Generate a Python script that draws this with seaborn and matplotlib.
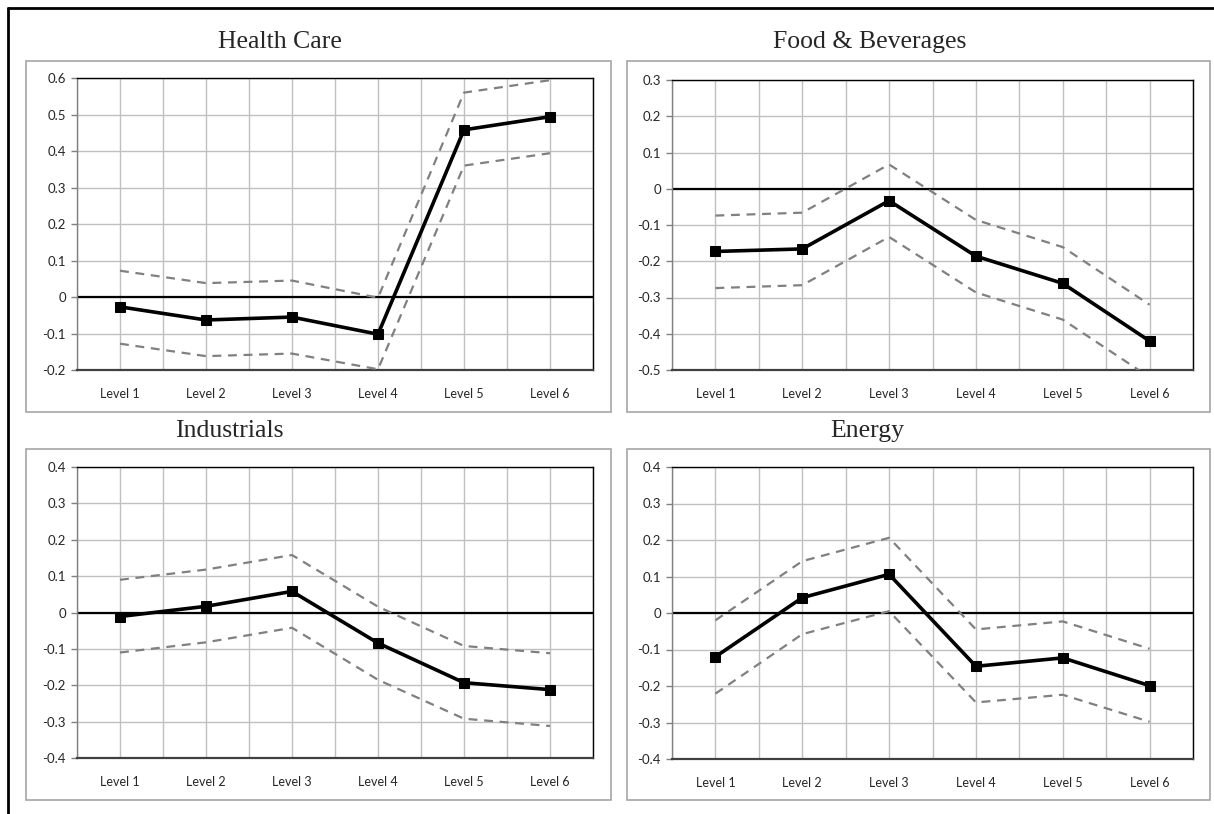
import numpy as np
import pandas as pd
import matplotlib.pyplot as plt
import seaborn as sns
from matplotlib.lines import Line2D
from matplotlib.patches import Rectangle

levels = ["Level 1", "Level 2", "Level 3", "Level 4", "Level 5", "Level 6"]

titles = ["Health Care", "Food & Beverages", "Industrials", "Energy"]

hc_mean = [-0.027, -0.063, -0.055, -0.102, 0.458, 0.494]
hc_upper = [0.072, 0.038, 0.045, -0.002, 0.560, 0.594]
hc_lower = [-0.128, -0.162, -0.155, -0.198, 0.360, 0.394]

fb_mean = [-0.173, -0.166, -0.033, -0.186, -0.261, -0.420]
fb_upper = [-0.074, -0.066, 0.067, -0.086, -0.161, -0.320]
fb_lower = [-0.274, -0.266, -0.133, -0.286, -0.361, -0.520]

ind_mean = [-0.011, 0.017, 0.058, -0.084, -0.193, -0.212]
ind_upper = [0.090, 0.118, 0.158, 0.016, -0.092, -0.112]
ind_lower = [-0.110, -0.082, -0.042, -0.185, -0.292, -0.312]

en_mean = [-0.120, 0.042, 0.106, -0.146, -0.123, -0.199]
en_upper = [-0.020, 0.142, 0.206, -0.045, -0.023, -0.098]
en_lower = [-0.221, -0.058, 0.005, -0.245, -0.224, -0.298]

ylims = [(-0.2, 0.6), (-0.5, 0.3), (-0.4, 0.4), (-0.4, 0.4)]

W, H = 1214, 814

sns.set_style("white")
plt.rcParams["font.family"] = ["Lato", "DejaVu Sans"]

fig = plt.figure(figsize=(W / 100, H / 100), dpi=100)

def px(x0, y0, x1, y1):
    # pixel box -> figure fraction [l, b, w, h]
    return [x0 / W, 1 - y1 / H, (x1 - x0) / W, (y1 - y0) / H]

# chart-area boxes, axes areas, title centres (pixels)
boxes = [(26, 61, 611, 412), (627, 61, 1210, 412), (26, 449, 611, 800), (627, 449, 1210, 800)]
areas = [(77, 78, 593, 370), (672, 80, 1193, 370), (77, 467, 593, 758), (672, 467, 1193, 759)]
tpos = [(280, 42), (870, 42), (229, 431), (867, 431)]

series = [(hc_mean, hc_upper, hc_lower), (fb_mean, fb_upper, fb_lower),
          (ind_mean, ind_upper, ind_lower), (en_mean, en_upper, en_lower)]

# outer frame (top + left)
fig.add_artist(Line2D([8 / W, 1], [1 - 8 / H, 1 - 8 / H], color="black", lw=2, transform=fig.transFigure))
fig.add_artist(Line2D([8 / W, 8 / W], [1 - 8 / H, 0], color="black", lw=2, transform=fig.transFigure))

for i in range(4):
    l, b, w, h = px(*boxes[i])
    fig.add_artist(Rectangle((l, b), w, h, transform=fig.transFigure, fill=False,
                             edgecolor="#a6a6a6", lw=1.2))
    fig.text(tpos[i][0] / W, 1 - tpos[i][1] / H, titles[i], ha="center", va="center",
             fontsize=18.5, family=["Liberation Serif", "DejaVu Serif"])

    ax = fig.add_axes(px(*areas[i]))
    mean, upper, lower = series[i]
    df = pd.DataFrame({"pos": np.arange(len(levels)), "mean": mean, "upper": upper, "lower": lower})

    ax.axhline(0, color="black", lw=1.6, zorder=2)
    sns.lineplot(data=df, x="pos", y="upper", ax=ax, color="#808080", lw=1.6,
                 linestyle=(0, (4, 3)), zorder=3)
    sns.lineplot(data=df, x="pos", y="lower", ax=ax, color="#808080", lw=1.6,
                 linestyle=(0, (4, 3)), zorder=3)
    sns.lineplot(data=df, x="pos", y="mean", ax=ax, color="black", lw=2.6,
                 marker="s", markersize=7, markeredgecolor="black", zorder=4)

    ax.set_xlim(-0.5, len(levels) - 0.5)
    ax.set_ylim(*ylims[i])
    ax.set_xticks(np.arange(len(levels)))
    ax.set_xticks(np.arange(-0.5, len(levels), 1.0), minor=True)
    ax.set_xticklabels(levels)
    ax.set_yticks(np.round(np.arange(ylims[i][0], ylims[i][1] + 0.01, 0.1), 1))
    ax.yaxis.set_major_formatter(plt.FuncFormatter(lambda v, p: "0" if abs(v) < 1e-9 else f"{v:.1f}"))
    ax.grid(True, which="both", color="#c0c0c0", lw=1.0)
    ax.set_axisbelow(True)
    ax.set_xlabel("")
    ax.set_ylabel("")
    ax.tick_params(axis="x", which="both", length=0, pad=13, labelsize=9)
    ax.tick_params(axis="y", length=4, color="#808080", width=1, pad=4, labelsize=9.5, left=True)
    ax.spines["top"].set_color("black")
    ax.spines["right"].set_color("black")
    ax.spines["left"].set_color("#808080")
    ax.spines["bottom"].set_color("#404040")
    ax.spines["bottom"].set_linewidth(1.6)
    for s in ["top", "right", "left"]:
        ax.spines[s].set_linewidth(1.0)

fig.savefig("out.png", dpi=100)
